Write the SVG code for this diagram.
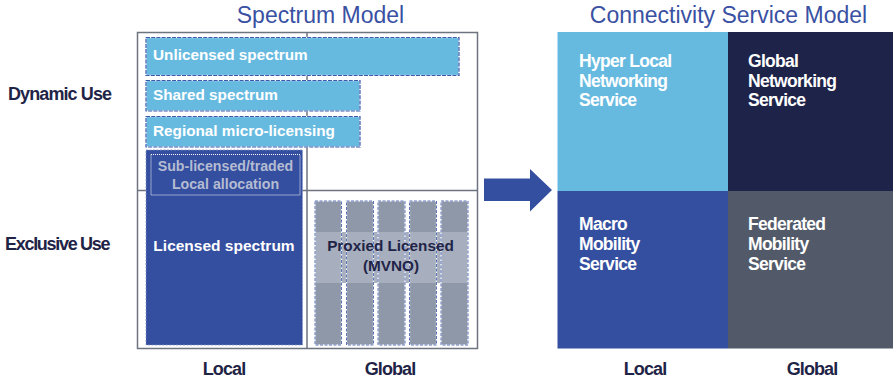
<svg xmlns="http://www.w3.org/2000/svg" width="893" height="380" viewBox="0 0 893 380">
  <style>
    text { font-family: "Liberation Sans", Arial, sans-serif; }
    .title { font-size: 23px; fill: #3a51a3; }
    .axis { font-size: 18px; font-weight: bold; fill: #1f2447; letter-spacing: -0.9px; }
    .bar { fill: #67badf; }
    .dash-under { fill: none; stroke: #ffffff; stroke-width: 1.2; }
    .dash { fill: none; stroke: #3b59ad; stroke-width: 1.2; stroke-dasharray: 4 1.2; }
    .bar-label { font-size: 15.3px; font-weight: bold; fill: #ffffff; }
    .col { fill: #8f98a9; }
    .col-dash { fill: none; stroke: #4a64b0; stroke-width: 0.9; stroke-dasharray: 3 1.5; }
    .svc { font-size: 17.5px; font-weight: bold; fill: #ffffff; letter-spacing: -0.7px; }
    .frame { fill: none; stroke: #6e7380; stroke-width: 1.5; }
  </style>

  <!-- Titles -->
  <text class="title" x="320.5" y="23" text-anchor="middle">Spectrum Model</text>
  <text class="title" x="728.5" y="23" text-anchor="middle">Connectivity Service Model</text>

  <!-- Row labels -->
  <text class="axis" x="8" y="100">Dynamic Use</text>
  <text class="axis" x="5" y="250" style="letter-spacing:-1.3px">Exclusive Use</text>

  <!-- Spectrum grid frame -->
  <g id="spectrum-frame">
    <rect class="frame" x="137.5" y="32.5" width="340" height="316"/>
    <line class="frame" x1="307" y1="32.5" x2="307" y2="348.5"/>
    <line class="frame" x1="137.5" y1="190.5" x2="477.5" y2="190.5"/>
  </g>

  <!-- Dynamic use bands -->
  <g id="unlicensed">
    <rect class="bar" x="146" y="37.5" width="313" height="38"/>
    <rect class="dash-under" x="146" y="37.5" width="313" height="38"/>
    <rect class="dash" x="146" y="37.5" width="313" height="38"/>
    <text class="bar-label" x="153" y="60">Unlicensed spectrum</text>
  </g>
  <g id="shared">
    <rect class="bar" x="146" y="80.5" width="214" height="30.5"/>
    <rect class="dash-under" x="146" y="80.5" width="214" height="30.5"/>
    <rect class="dash" x="146" y="80.5" width="214" height="30.5"/>
    <text class="bar-label" x="153" y="100">Shared spectrum</text>
  </g>
  <g id="regional">
    <rect class="bar" x="146" y="116.5" width="214" height="30.5"/>
    <rect class="dash-under" x="146" y="116.5" width="214" height="30.5"/>
    <rect class="dash" x="146" y="116.5" width="214" height="30.5"/>
    <text class="bar-label" x="153" y="136">Regional micro-licensing</text>
  </g>

  <!-- Local licensed block -->
  <g id="licensed">
    <rect x="146" y="150" width="156.5" height="195" fill="#344ea0"/>
    <rect x="146" y="150" width="156.5" height="195" fill="none" stroke="#8794c8" stroke-width="0.8" stroke-dasharray="2 1.5"/>
    <text class="bar-label" x="224" y="251" text-anchor="middle" style="font-size:15.5px">Licensed spectrum</text>
  </g>
  <g id="sub-licensed">
    <rect x="151" y="154.5" width="149" height="40.5" fill="none" stroke="#ffffff" stroke-width="1" stroke-dasharray="1 1"/>
    <text x="225.5" y="171" text-anchor="middle" font-size="14.2" font-weight="bold" fill="#b4bcd2">Sub-licensed/traded</text>
    <text x="225.5" y="188.5" text-anchor="middle" font-size="14.2" font-weight="bold" fill="#b4bcd2">Local allocation</text>
  </g>

  <!-- Proxied licensed (MVNO) columns -->
  <g id="proxied">
    <rect class="col" x="315" y="201" width="26.5" height="144"/>
    <rect class="col" x="346.5" y="201" width="27" height="144"/>
    <rect class="col" x="378" y="201" width="27" height="144"/>
    <rect class="col" x="409.5" y="201" width="27" height="144"/>
    <rect class="col" x="441" y="201" width="27" height="144"/>
    <rect x="315" y="232" width="153" height="51" fill="#a7aebe"/>
    <g>
      <rect class="dash-under" x="315" y="201" width="26.5" height="144"/>
      <rect class="dash-under" x="346.5" y="201" width="27" height="144"/>
      <rect class="dash-under" x="378" y="201" width="27" height="144"/>
      <rect class="dash-under" x="409.5" y="201" width="27" height="144"/>
      <rect class="dash-under" x="441" y="201" width="27" height="144"/>
      <rect class="col-dash" x="315" y="201" width="26.5" height="144"/>
      <rect class="col-dash" x="346.5" y="201" width="27" height="144"/>
      <rect class="col-dash" x="378" y="201" width="27" height="144"/>
      <rect class="col-dash" x="409.5" y="201" width="27" height="144"/>
      <rect class="col-dash" x="441" y="201" width="27" height="144"/>
    </g>
    <text x="390.5" y="251" text-anchor="middle" font-size="15.3" font-weight="bold" fill="#1f2447">Proxied Licensed</text>
    <text x="391" y="271" text-anchor="middle" font-size="15.3" font-weight="bold" fill="#1f2447">(MVNO)</text>
  </g>

  <!-- Column labels, spectrum model -->
  <text class="axis" x="224" y="375" text-anchor="middle">Local</text>
  <text class="axis" x="390" y="375" text-anchor="middle">Global</text>

  <!-- Connector -->
  <g id="connectors">
    <polygon points="484,178.5 530,178.5 530,169 552,190 530,211.5 530,201 484,201" fill="#344ea0"/>
  </g>

  <!-- Connectivity service quadrants -->
  <g id="hyper-local">
    <rect x="557.5" y="32" width="170.5" height="159" fill="#67badf"/>
    <text class="svc" x="579" y="67">Hyper Local</text>
    <text class="svc" x="579" y="86.5">Networking</text>
    <text class="svc" x="579" y="106">Service</text>
  </g>
  <g id="global-networking">
    <rect x="728" y="32" width="165" height="159" fill="#1e2349"/>
    <text class="svc" x="748" y="67">Global</text>
    <text class="svc" x="748" y="86.5">Networking</text>
    <text class="svc" x="748" y="106">Service</text>
  </g>
  <g id="macro-mobility">
    <rect x="557.5" y="191" width="170.5" height="157.5" fill="#344ea0"/>
    <text class="svc" x="579" y="230">Macro</text>
    <text class="svc" x="579" y="250">Mobility</text>
    <text class="svc" x="579" y="270">Service</text>
  </g>
  <g id="federated-mobility">
    <rect x="728" y="191" width="165" height="157.5" fill="#525a69"/>
    <text class="svc" x="748" y="230">Federated</text>
    <text class="svc" x="748" y="250">Mobility</text>
    <text class="svc" x="748" y="270">Service</text>
  </g>

  <!-- Column labels, service model -->
  <text class="axis" x="645" y="375" text-anchor="middle">Local</text>
  <text class="axis" x="812" y="375" text-anchor="middle">Global</text>
</svg>
